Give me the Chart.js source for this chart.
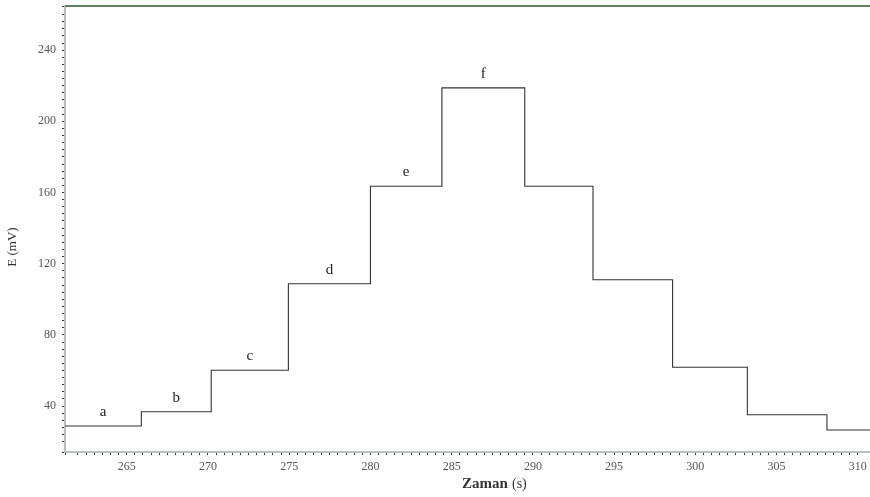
<!DOCTYPE html>
<html>
<head>
<meta charset="utf-8">
<script src="https://cdn.jsdelivr.net/npm/chart.js@4"></script>
<style>
  html, body { margin: 0; padding: 0; background: #fff; }
  #wrap { width: 870px; height: 497px; position: relative; }
</style>
</head>
<body>
<div id="wrap"><canvas id="myChart"></canvas></div>
<script>
// step start times (s) and potential level (mV) of each step
const stepTimes  = [261.2, 265.9, 270.2, 274.95, 280.0, 284.4, 289.5, 293.7, 298.6, 303.2, 308.1, 310.75];
const stepValues = [28.8, 36.8, 60.1, 108.7, 163.5, 218.8, 163.5, 111.0, 61.8, 35.1, 26.6, 26.6];
// letters written above the first six steps
const stepLabels = ['a', 'b', 'c', 'd', 'e', 'f'];

const xMin = 261.2, xMax = 310.75;
const yMin = 14.2, yMax = 264.8;

const serif = "'Liberation Serif', 'DejaVu Serif', serif";

let points = stepTimes.map(function (t, i) {
    return { x: t, y: stepValues[i] };
});

// no extra room for the end labels
function noOverflow(scale) {
    scale.paddingTop = 0;
    scale.paddingBottom = 0;
    scale.paddingLeft = 0;
    scale.paddingRight = 0;
}

// frame line, step letters and axis titles
const extras = {
    id: 'extras',
    afterDraw: function (chart) {
        const c = chart.ctx;
        const area = chart.chartArea;
        const xs = chart.scales.x;
        const ys = chart.scales.y;
        c.save();
        // green top frame
        c.strokeStyle = '#5f7f5f';
        c.lineWidth = 2;
        c.beginPath();
        c.moveTo(area.left, area.top);
        c.lineTo(area.right, area.top);
        c.stroke();

        // letters
        c.fillStyle = '#222';
        c.font = '15px ' + serif;
        c.textAlign = 'center';
        c.textBaseline = 'middle';
        stepLabels.forEach(function (lab, i) {
            let mid = (stepTimes[i] + stepTimes[i + 1]) / 2;
            let px = xs.getPixelForValue(mid);
            let py = ys.getPixelForValue(stepValues[i]) - 14;
            c.fillText(lab, px, py);
        });

        // axis titles
        c.fillStyle = '#333';
        c.font = 'bold 15px ' + serif;
        c.fillText('Zaman', 485, 484);
        c.font = '14px ' + serif;
        c.textAlign = 'left';
        c.fillText('(s)', 512, 484);

        c.translate(13, 247);
        c.rotate(-Math.PI / 2);
        c.textAlign = 'center';
        c.font = '13px ' + serif;
        c.fillText('E (mV)', 0, 0);
        c.restore();
    }
};

let ctx = document.getElementById('myChart').getContext('2d');
let chart = new Chart(ctx, {
    type: 'line',
    data: {
        datasets: [
            {
                label: 'E',
                data: points,
                stepped: true,
                borderColor: '#333',
                borderWidth: 1.1,
                pointRadius: 0,
                fill: false
            }
        ]
    },
    options: {
        responsive: true,
        maintainAspectRatio: false,
        animation: false,
        layout: { padding: { top: 6, right: 0, left: 0, bottom: 0 } },
        plugins: {
            legend: { display: false },
            tooltip: { enabled: false }
        },
        scales: {
            x: {
                type: 'linear',
                min: xMin,
                max: xMax,
                afterFit: function (scale) { scale.height = 45; noOverflow(scale); },
                border: { display: true, color: '#b9c0b9', width: 2 },
                grid: {
                    drawOnChartArea: false,
                    drawTicks: true,
                    tickLength: 3,
                    tickColor: '#333'
                },
                ticks: {
                    stepSize: 0.5,
                    autoSkip: false,
                    maxRotation: 0,
                    padding: 5,
                    color: '#555',
                    font: { family: serif, size: 12 },
                    callback: function (v) {
                        let r = Math.round(v / 5) * 5;
                        return Math.abs(v - r) < 1e-6 ? String(r) : '';
                    }
                }
            },
            y: {
                min: yMin,
                max: yMax,
                afterFit: function (scale) { scale.width = 65; noOverflow(scale); },
                border: { display: true, color: '#b9c0b9', width: 2 },
                grid: {
                    drawOnChartArea: false,
                    drawTicks: true,
                    tickLength: 3,
                    tickColor: '#333'
                },
                ticks: {
                    stepSize: 4,
                    autoSkip: false,
                    padding: 6,
                    color: '#555',
                    font: { family: serif, size: 12 },
                    callback: function (v) {
                        let r = Math.round(v / 40) * 40;
                        return (Math.abs(v - r) < 1e-6 && r >= 40) ? String(r) : '';
                    }
                }
            }
        }
    },
    plugins: [extras]
});
</script>
</body>
</html>
